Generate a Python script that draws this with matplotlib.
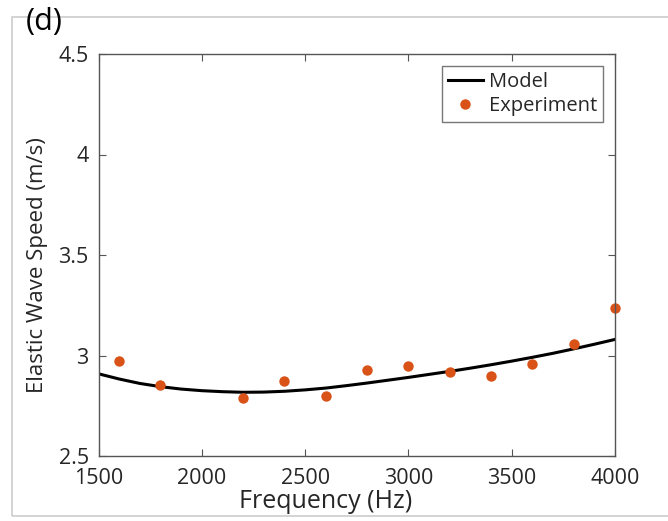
import matplotlib
matplotlib.use("Agg")
import matplotlib.pyplot as plt
from matplotlib.patches import Rectangle

# experiment points
exp_freq = [1600, 1800, 2200, 2400, 2600, 2800, 3000, 3200, 3400, 3600, 3800, 4000]
exp_speed = [2.975, 2.854, 2.788, 2.871, 2.798, 2.929, 2.947, 2.920, 2.897, 2.959, 3.055, 3.237]

# model curve, read every 100 Hz
model_freq = list(range(1500, 4001, 100))
model_speed = [2.909, 2.883, 2.861, 2.845, 2.833, 2.825, 2.820, 2.817, 2.818, 2.822,
               2.829, 2.838, 2.850, 2.863, 2.877, 2.891, 2.906, 2.921, 2.937, 2.954,
               2.972, 2.991, 3.011, 3.033, 3.056, 3.080]

xticks = [1500, 2000, 2500, 3000, 3500, 4000]
yticks = [2.5, 3, 3.5, 4, 4.5]
ytick_labels = ["2.5", "3", "3.5", "4", "4.5"]

plt.rcParams['font.family'] = ['Open Sans', 'DejaVu Sans']
txt = '#262626'
edge = '#555555'

fig = plt.figure(figsize=(6.68, 5.21), dpi=100)
ax = fig.add_axes([98.5/668, 1-456/521, (615-98.5)/668, (456-54)/521])

# faint frame round the panel
fig.patches.append(Rectangle((12/668, 1-516/521), 0.99, (516-17)/521,
                             transform=fig.transFigure, fill=False,
                             edgecolor='#cccccc', linewidth=1.2))

ax.plot(model_freq, model_speed, color='black', linewidth=2.2, label='Model')
ax.plot(exp_freq, exp_speed, 'o', color='#D95319', markersize=7.5,
        markeredgewidth=0, label='Experiment', clip_on=False)

ax.set_xlim(1500, 4000)
ax.set_ylim(2.5, 4.5)
ax.set_xticks(xticks)
ax.set_yticks(yticks)
ax.set_yticklabels(ytick_labels)
ax.tick_params(direction='in', length=5, width=0.8, colors=edge,
               labelcolor=txt, labelsize=15.5, top=True, right=True)
ax.tick_params(axis='x', pad=9)
ax.tick_params(axis='y', pad=7)
for s in ax.spines.values():
    s.set_color(edge)
    s.set_linewidth(1.0)

ax.set_xlabel("Frequency (Hz)", fontsize=18, color=txt)
ax.xaxis.set_label_coords(0.44, -0.081)
ax.set_ylabel("Elastic Wave Speed (m/s)", fontsize=16, color=txt)
ax.yaxis.set_label_coords(-0.097, 0.475)

leg = ax.legend(loc='upper right', fontsize=14.5, frameon=True, fancybox=False,
                handlelength=1.7, handletextpad=0.3, borderpad=0.3,
                labelspacing=0.2, borderaxespad=0.6)
leg.get_frame().set_edgecolor(edge)
leg.get_frame().set_linewidth(1.0)
for t in leg.get_texts():
    t.set_color(txt)

fig.text(26/668, 1-22/521, "(d)", fontsize=22, color='black', va='center', ha='left')

fig.savefig("out.png", dpi=100)
